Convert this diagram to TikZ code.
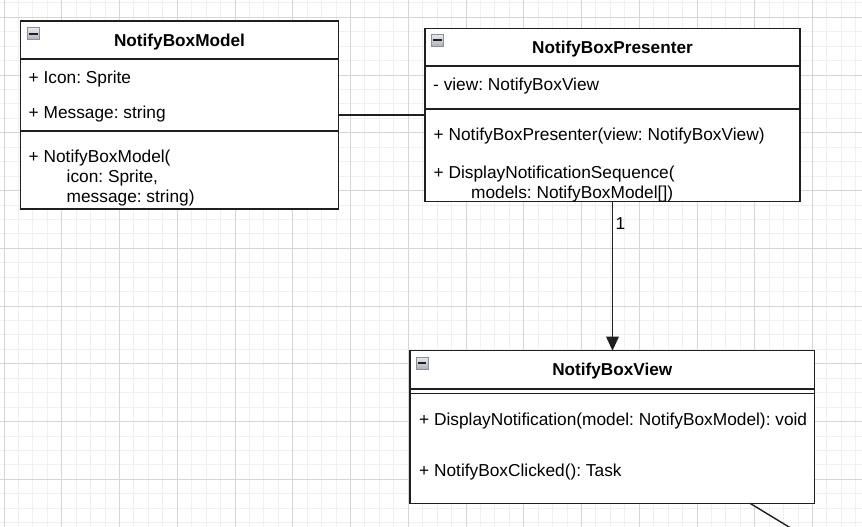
\documentclass[tikz,border=0pt]{standalone}
\usepackage{fontspec}
\setmainfont{Liberation Sans}
\usetikzlibrary{arrows.meta,calc}
\frenchspacing
\definecolor{gridminor}{HTML}{F0F0F0}
\definecolor{gridmajor}{HTML}{D6D6D6}
\definecolor{iconfill}{HTML}{CDD1D8}
\definecolor{iconedge}{HTML}{8A8F99}
\definecolor{edgecol}{HTML}{1F1F1F}
\begin{document}
\begin{tikzpicture}[x=1pt,y=-1pt,
  umlbox/.style={draw=edgecol,line width=1.5pt,fill=white,rectangle,inner sep=0pt,outer sep=0pt,anchor=north west},
  divider/.style={draw=edgecol,line width=1.5pt},
  conn/.style={draw=edgecol,line width=1.4pt},
  titletext/.style={inner sep=0pt,anchor=base,font=\fontsize{17.2}{20}\selectfont\bfseries},
  itemtext/.style={inner sep=0pt,anchor=base west,font=\fontsize{17.3}{20}\selectfont},
  icon/.style={draw=iconedge,line width=0.8pt,top color=iconfill!50!white,bottom color=iconfill!85!black,rectangle,minimum size=11.5pt,inner sep=0pt,anchor=north west},
  minus/.style={draw=edgecol,line width=2pt},
  minorline/.style={draw=gridminor,line width=0.9pt},
  majorline/.style={draw=gridmajor,line width=0.9pt}]
\useasboundingbox (0,0) rectangle (862,527);
\fill[white] (0,0) rectangle (862,527);
% grid
\foreach \i in {0,...,60} \draw[minorline] ({4+\i*14.4375},0) -- ({4+\i*14.4375},527);
\foreach \i in {-1,...,36} \draw[minorline] (0,{17.3+\i*14.4375}) -- (862,{17.3+\i*14.4375});
\foreach \i in {0,...,15} \draw[majorline] ({4+\i*57.75},0) -- ({4+\i*57.75},527);
\foreach \i in {0,...,9} \draw[majorline] (0,{17.3+\i*57.75}) -- (862,{17.3+\i*57.75});

% NotifyBoxModel
\node[umlbox,minimum width=317.6pt,minimum height=188pt] (model) at (20.7,21) {};
\draw[divider] (20.7,59) -- (338.3,59);
\draw[divider] (20.7,131) -- (338.3,131);
\node[icon] (modelI) at (27.3,27.5) {};
\draw[minus] ($(modelI.west)+(2pt,0)$) -- ($(modelI.east)+(-2pt,0)$);
\node[titletext] (modelT) at (179.5,46.7) {NotifyBoxModel};
\node[itemtext] (modelA1) at (28.5,83.3) {+ Icon: Sprite};
\node[itemtext] (modelA2) at (28.5,118.3) {+ Message: string};
\node[itemtext] (modelM1) at (28.5,162.3) {+ NotifyBoxModel(};
\node[itemtext] (modelM2) at (66.5,182.3) {icon: Sprite,};
\node[itemtext] (modelM3) at (66.5,202.3) {message: string)};

% NotifyBoxPresenter
\node[umlbox,minimum width=375pt,minimum height=173pt] (pres) at (425,28.7) {};
\draw[divider] (425,66) -- (800,66);
\draw[divider] (425,109) -- (800,109);
\node[icon] (presI) at (431.3,34.2) {};
\draw[minus] ($(presI.west)+(2pt,0)$) -- ($(presI.east)+(-2pt,0)$);
\node[titletext] (presT) at (612.5,53.3) {NotifyBoxPresenter};
\node[itemtext] (presA1) at (433,91) {- view: NotifyBoxView};
\node[itemtext] (presM1) at (433.5,140) {+ NotifyBoxPresenter(view: NotifyBoxView)};
\node[itemtext] (presM2) at (433.5,178.3) {+ DisplayNotificationSequence(};
\node[itemtext] (presM3) at (471,198.3) {models: NotifyBoxModel[])};

% NotifyBoxView
\node[umlbox,minimum width=404.7pt,minimum height=152.6pt] (view) at (410,350.7) {};
\draw[divider] (410,389) -- (814.7,389);
\draw[divider] (410,393.7) -- (814.7,393.7);
\node[icon] (viewI) at (416,357) {};
\draw[minus] ($(viewI.west)+(2pt,0)$) -- ($(viewI.east)+(-2pt,0)$);
\node[titletext] (viewT) at (612.3,375.7) {NotifyBoxView};
\node[itemtext] (viewM1) at (419,425.7) {+ DisplayNotification(model: NotifyBoxModel): void};
\node[itemtext] (viewM2) at (419,476) {+ NotifyBoxClicked(): Task};

% connectors
\draw[conn] (model.east) -- (model.east -| pres.west);
\draw[conn,-{Triangle[length=14pt,width=12.5pt]}] (pres.south) -- (pres.south |- view.north);
\node[itemtext] (mult) at (615.5,229.3) {1};
\coordinate (offpage) at (800,533.7);
\draw[conn] (view.-29.3) -- (offpage);
\end{tikzpicture}
\end{document}
